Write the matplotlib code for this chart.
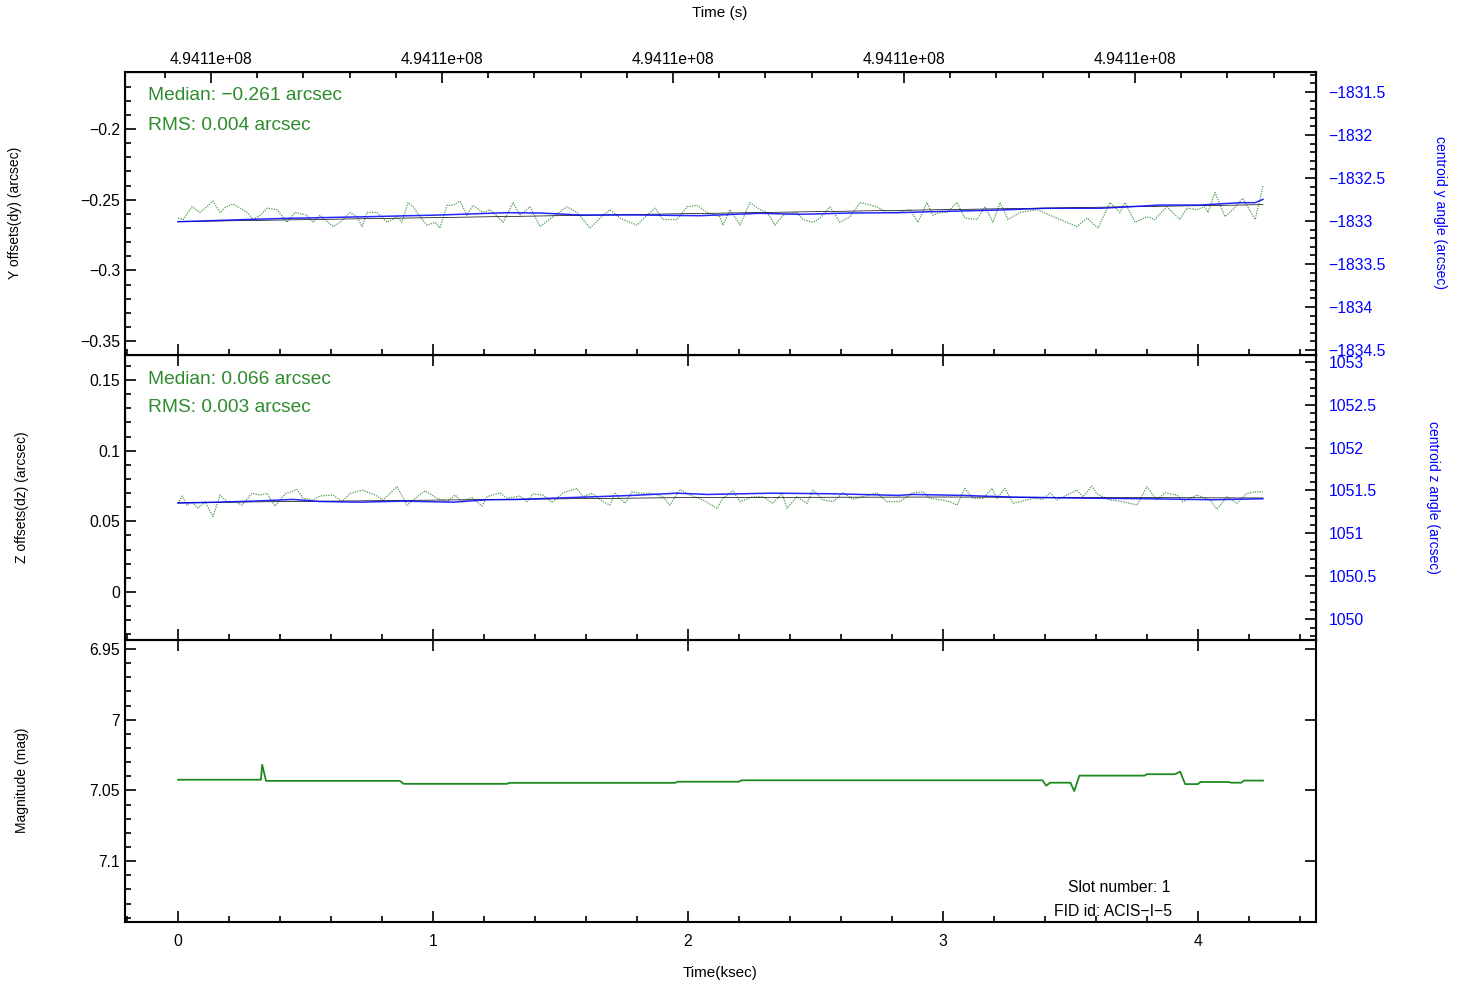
import matplotlib
matplotlib.use('Agg')
import numpy as np
import matplotlib.pyplot as plt
import matplotlib.ticker as ticker

plt.rcParams['font.family'] = ['Liberation Sans', 'DejaVu Sans']

# ---- data (time in ksec) ----
t_dy = [0.000, 0.020, 0.055, 0.086, 0.106, 0.137, 0.165, 0.188, 0.216, 0.243, 0.271, 0.294,
        0.322, 0.349, 0.388, 0.427, 0.459, 0.506, 0.529, 0.557, 0.608, 0.635, 0.675, 0.702,
        0.722, 0.741, 0.780, 0.820, 0.859, 0.878, 0.902, 0.922, 0.949, 0.976, 1.008, 1.027,
        1.055, 1.078, 1.106, 1.133, 1.157, 1.196, 1.224, 1.275, 1.314, 1.341, 1.380, 1.420,
        1.471, 1.525, 1.565, 1.616, 1.655, 1.694, 1.733, 1.800, 1.839, 1.871, 1.902, 1.957,
        1.996, 2.035, 2.075, 2.125, 2.137, 2.165, 2.204, 2.243, 2.282, 2.310, 2.341, 2.373,
        2.427, 2.451, 2.490, 2.518, 2.557, 2.596, 2.635, 2.675, 2.741, 2.780, 2.824, 2.871,
        2.902, 2.937, 2.961, 2.988, 3.016, 3.055, 3.086, 3.133, 3.165, 3.196, 3.224, 3.255,
        3.302, 3.369, 3.420, 3.486, 3.525, 3.565, 3.608, 3.655, 3.694, 3.714, 3.753, 3.800,
        3.831, 3.878, 3.929, 3.957, 3.996, 4.027, 4.039, 4.067, 4.106, 4.137, 4.176, 4.224,
        4.243, 4.255]
dy = [-0.263, -0.264, -0.255, -0.259, -0.256, -0.251, -0.259, -0.255, -0.253, -0.256, -0.259, -0.264,
      -0.261, -0.256, -0.257, -0.266, -0.259, -0.261, -0.266, -0.261, -0.269, -0.266, -0.259, -0.262,
      -0.269, -0.259, -0.259, -0.266, -0.262, -0.266, -0.252, -0.255, -0.262, -0.268, -0.266, -0.270,
      -0.254, -0.254, -0.251, -0.261, -0.254, -0.259, -0.257, -0.266, -0.252, -0.261, -0.255, -0.269,
      -0.262, -0.255, -0.259, -0.270, -0.263, -0.257, -0.263, -0.268, -0.261, -0.256, -0.264, -0.264,
      -0.255, -0.254, -0.259, -0.262, -0.268, -0.257, -0.268, -0.252, -0.257, -0.259, -0.268, -0.261,
      -0.259, -0.264, -0.266, -0.263, -0.255, -0.266, -0.262, -0.252, -0.255, -0.259, -0.259, -0.257,
      -0.266, -0.252, -0.261, -0.259, -0.259, -0.252, -0.263, -0.264, -0.255, -0.266, -0.252, -0.264,
      -0.259, -0.257, -0.261, -0.266, -0.269, -0.263, -0.270, -0.252, -0.259, -0.252, -0.266, -0.262,
      -0.264, -0.255, -0.264, -0.256, -0.257, -0.255, -0.259, -0.245, -0.262, -0.257, -0.249, -0.264,
      -0.250, -0.240]

t_yang = [0.000, 0.294, 0.427, 0.741, 1.027, 1.290, 1.420, 1.576, 1.812, 2.047, 2.282, 2.439,
          2.635, 2.824, 2.949, 3.224, 3.400, 3.616, 3.733, 3.851, 4.008, 4.165, 4.224, 4.255]
yang = [-1833.008, -1832.980, -1832.969, -1832.950, -1832.930, -1832.903, -1832.907, -1832.930,
        -1832.930, -1832.938, -1832.910, -1832.922, -1832.907, -1832.903, -1832.892, -1832.872,
        -1832.852, -1832.852, -1832.834, -1832.814, -1832.814, -1832.787, -1832.787, -1832.748]

t_dyfit = [0.0, 4.255]
dyfit = [-0.2655, -0.2535]

t_dz = [0.000, 0.016, 0.035, 0.055, 0.078, 0.106, 0.137, 0.165, 0.192, 0.224, 0.251, 0.290,
        0.322, 0.349, 0.380, 0.420, 0.467, 0.490, 0.529, 0.557, 0.608, 0.643, 0.675, 0.722,
        0.773, 0.804, 0.859, 0.898, 0.922, 0.969, 1.016, 1.055, 1.086, 1.114, 1.153, 1.192,
        1.212, 1.263, 1.290, 1.341, 1.369, 1.392, 1.431, 1.467, 1.510, 1.565, 1.588, 1.624,
        1.667, 1.694, 1.714, 1.753, 1.780, 1.812, 1.859, 1.902, 1.929, 1.969, 2.008, 2.059,
        2.114, 2.137, 2.176, 2.204, 2.255, 2.294, 2.333, 2.369, 2.388, 2.427, 2.467, 2.490,
        2.529, 2.569, 2.608, 2.647, 2.686, 2.741, 2.780, 2.831, 2.882, 2.922, 2.949, 2.996,
        3.027, 3.055, 3.086, 3.118, 3.157, 3.192, 3.212, 3.243, 3.275, 3.329, 3.353, 3.392,
        3.420, 3.447, 3.486, 3.525, 3.549, 3.584, 3.604, 3.655, 3.706, 3.761, 3.800, 3.839,
        3.871, 3.918, 3.941, 3.996, 4.047, 4.075, 4.114, 4.153, 4.192, 4.231, 4.255]
dz = [0.0627, 0.0679, 0.0615, 0.0639, 0.0592, 0.0639, 0.0533, 0.0686, 0.0639, 0.0639, 0.0615, 0.0698,
      0.0686, 0.0698, 0.0608, 0.0693, 0.0726, 0.0663, 0.0651, 0.0679, 0.0686, 0.0639, 0.0698, 0.0721,
      0.0686, 0.0651, 0.0745, 0.0615, 0.0651, 0.0716, 0.0663, 0.0639, 0.0686, 0.0639, 0.0670, 0.0608,
      0.0674, 0.0702, 0.0663, 0.0679, 0.0639, 0.0693, 0.0686, 0.0634, 0.0702, 0.0733, 0.0674, 0.0698,
      0.0639, 0.0615, 0.0698, 0.0627, 0.0709, 0.0698, 0.0698, 0.0674, 0.0615, 0.0726, 0.0686, 0.0651,
      0.0592, 0.0663, 0.0716, 0.0639, 0.0674, 0.0674, 0.0627, 0.0698, 0.0592, 0.0674, 0.0627, 0.0721,
      0.0651, 0.0639, 0.0702, 0.0656, 0.0674, 0.0702, 0.0639, 0.0639, 0.0702, 0.0709, 0.0663, 0.0651,
      0.0639, 0.0615, 0.0733, 0.0663, 0.0663, 0.0733, 0.0663, 0.0733, 0.0627, 0.0651, 0.0663, 0.0656,
      0.0702, 0.0651, 0.0686, 0.0721, 0.0674, 0.0750, 0.0693, 0.0651, 0.0639, 0.0615, 0.0745, 0.0651,
      0.0702, 0.0686, 0.0639, 0.0686, 0.0651, 0.0585, 0.0674, 0.0627, 0.0698, 0.0709, 0.0709]

t_zang = [0.000, 0.153, 0.294, 0.451, 0.557, 0.714, 0.882, 1.078, 1.212, 1.333, 1.525, 1.784,
          1.957, 2.075, 2.333, 2.569, 2.824, 2.882, 3.078, 3.275, 3.537, 3.800, 4.059, 4.255]
zang = [1051.352, 1051.363, 1051.375, 1051.395, 1051.371, 1051.363, 1051.375, 1051.363, 1051.391,
        1051.395, 1051.415, 1051.442, 1051.468, 1051.453, 1051.468, 1051.461, 1051.442, 1051.453,
        1051.442, 1051.422, 1051.410, 1051.403, 1051.391, 1051.403]

t_dzfit = [0.0, 1.0, 2.0, 3.0, 4.255]
dzfit = [0.0632, 0.0650, 0.0668, 0.0672, 0.0665]

t_mag = [0.000, 0.325, 0.330, 0.345, 0.870, 0.885, 1.290, 1.300, 1.950, 1.960, 2.200, 2.210,
         3.390, 3.405, 3.420, 3.500, 3.515, 3.535, 3.790, 3.800, 3.910, 3.930, 3.950, 4.000,
         4.010, 4.120, 4.130, 4.170, 4.180, 4.255]
mag = [7.0424, 7.0424, 7.0318, 7.0432, 7.0432, 7.0453, 7.0453, 7.0446, 7.0446, 7.0438, 7.0438, 7.0428,
       7.0428, 7.0466, 7.0445, 7.0445, 7.0504, 7.0395, 7.0395, 7.0385, 7.0385, 7.0367, 7.0455, 7.0455,
       7.0440, 7.0440, 7.0445, 7.0445, 7.0430, 7.0430]

sec_tick_ksec = [0.129, 1.035, 1.941, 2.847, 3.753]
sec_tick_labels = ['4.9411e+08'] * 5

dy_text = ['Median: \u22120.261 arcsec', 'RMS: 0.004 arcsec']
dz_text = ['Median: 0.066 arcsec', 'RMS: 0.003 arcsec']

GREEN = '#2e8b2e'
BLUE = '#0000ff'
TICKFS = 11.3


def fmt(v, pos):
    return '{:g}'.format(round(v, 6)).replace('-', '\u2212')


def style(ax, ymaj, ymin):
    ax.set_xlim(-0.208, 4.463)
    ax.xaxis.set_major_locator(ticker.MultipleLocator(1))
    ax.xaxis.set_minor_locator(ticker.MultipleLocator(0.2))
    ax.yaxis.set_major_locator(ticker.MultipleLocator(ymaj))
    ax.yaxis.set_minor_locator(ticker.MultipleLocator(ymin))
    ax.yaxis.set_major_formatter(ticker.FuncFormatter(fmt))
    ax.tick_params(which='both', direction='in', labelsize=TICKFS, width=1.2)
    ax.tick_params(which='major', length=8)
    ax.tick_params(which='minor', length=4)
    for s in ax.spines.values():
        s.set_linewidth(1.5)


def style_right(axr, lo, hi):
    axr.set_ylim(lo, hi)
    axr.yaxis.set_major_locator(ticker.MultipleLocator(0.5))
    axr.yaxis.set_minor_locator(ticker.MultipleLocator(0.1))
    axr.yaxis.set_major_formatter(ticker.FuncFormatter(fmt))
    axr.tick_params(which='both', direction='in', labelsize=TICKFS, labelcolor=BLUE,
                    width=1.2, pad=9)
    axr.tick_params(which='major', length=8)
    axr.tick_params(which='minor', length=4)


def fy(px):
    return 1 - px / 985


fig = plt.figure(figsize=(14.65, 9.85), dpi=100)
L, W = 125 / 1465, (1316 - 125) / 1465


def rect(top, bot):
    return [L, fy(bot), W, (bot - top) / 985]


ax1 = fig.add_axes(rect(72, 355))
ax2 = fig.add_axes(rect(355, 640))
ax3 = fig.add_axes(rect(640, 922))

# ---- top panel: dy ----
ax1.plot(t_dy, dy, color=GREEN, lw=0.9, ls=(0, (1, 1)), alpha=0.85)
ax1.plot(t_dyfit, dyfit, color='black', lw=0.5)
ax1.set_ylim(-0.3598, -0.1597)
style(ax1, 0.05, 0.01)
ax1.tick_params(axis='x', labelbottom=False, top=False)
for i, s in enumerate(dy_text):
    fig.text(148 / 1465, fy(96 + i * 29), s, color=GREEN, fontsize=13.8, va='center')

sec = ax1.secondary_xaxis('top')
sec.set_xticks(sec_tick_ksec, sec_tick_labels)
sec.xaxis.set_minor_locator(ticker.MultipleLocator(0.906 / 5, offset=0.129))
sec.tick_params(which='both', direction='in', labelsize=TICKFS, width=1.2)
sec.tick_params(which='major', length=8)
sec.tick_params(which='minor', length=4)

ax1r = ax1.twinx()
ax1r.plot(t_yang, yang, color=BLUE, lw=1.1, alpha=0.85)
style_right(ax1r, -1834.558, -1831.267)

# ---- middle panel: dz ----
ax2.plot(t_dz, dz, color=GREEN, lw=0.9, ls=(0, (1, 1)), alpha=0.85)
ax2.plot(t_dzfit, dzfit, color='black', lw=0.5)
ax2.set_ylim(-0.034, 0.1677)
style(ax2, 0.05, 0.01)
ax2.tick_params(axis='x', labelbottom=False, top=True)
for i, s in enumerate(dz_text):
    fig.text(148 / 1465, fy(379 + i * 29), s, color=GREEN, fontsize=13.8, va='center')

ax2r = ax2.twinx()
ax2r.plot(t_zang, zang, color=BLUE, lw=1.1, alpha=0.85)
style_right(ax2r, 1049.755, 1053.08)

# ---- bottom panel: magnitude ----
ax3.plot(t_mag, mag, color='#1f8a1f', lw=1.3)
ax3.set_ylim(7.143, 6.9436)
style(ax3, 0.05, 0.01)
ax3.tick_params(axis='x', top=True, pad=9)
ax3.tick_params(axis='y', right=True)
fig.text(1170 / 1465, fy(887), 'Slot number: 1', fontsize=11.3, ha='right', va='center')
fig.text(1172 / 1465, fy(912), 'FID id: ACIS\u2212I\u22125', fontsize=11.3, ha='right', va='center')

# ---- axis titles ----
fig.text(720 / 1465, fy(13), 'Time (s)', fontsize=11, ha='center', va='center')
fig.text(720 / 1465, fy(973), 'Time(ksec)', fontsize=11, ha='center', va='center')
fig.text(15 / 1465, fy(213), 'Y offsets(dy) (arcsec)', fontsize=10, rotation=90,
         ha='center', va='center')
fig.text(22 / 1465, fy(497), 'Z offsets(dz) (arcsec)', fontsize=10, rotation=90,
         ha='center', va='center')
fig.text(22 / 1465, fy(780), 'Magnitude (mag)', fontsize=10, rotation=90,
         ha='center', va='center')
fig.text(1440 / 1465, fy(213), 'centroid y angle (arcsec)', fontsize=10, rotation=-90,
         color=BLUE, ha='center', va='center')
fig.text(1433 / 1465, fy(497), 'centroid z angle (arcsec)', fontsize=10, rotation=-90,
         color=BLUE, ha='center', va='center')

fig.savefig('out.png', dpi=100)
